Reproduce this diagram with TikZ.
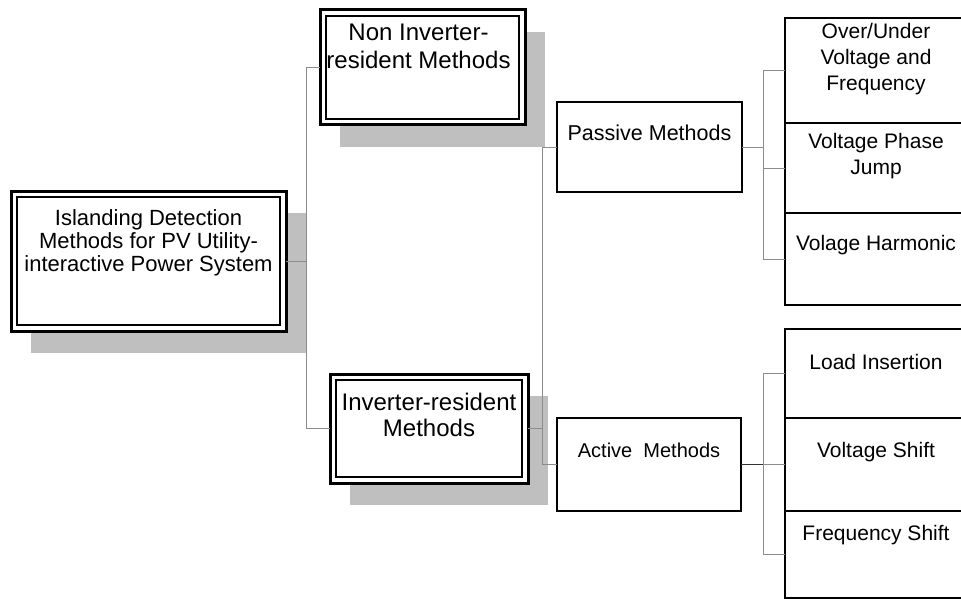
\documentclass[tikz,border=0pt]{standalone}
\usepackage{fontspec}
\setmainfont{Liberation Sans}
\usetikzlibrary{positioning,shadows}

\tikzset{
  dbox/.style={draw, line width=3pt, inner sep=0pt, outer sep=0pt, fill=white,
    drop shadow={shadow xshift=20pt, shadow yshift=-22pt, fill=black!25, opacity=1},
    path picture={\draw[line width=1.5pt]
      ([shift={(6pt,6pt)}]path picture bounding box.south west) rectangle
      ([shift={(-6pt,-6pt)}]path picture bounding box.north east);}},
  sbox/.style={draw, line width=1.5pt, inner sep=0pt, outer sep=0pt, fill=white},
  leaf/.style={sbox, minimum width=182pt},
  conn/.style={draw=black!45, line width=0.9pt},
  lbl/.style={align=center, inner sep=0pt, font=\fontsize{21}{26}\selectfont}
}

\begin{document}
\begin{tikzpicture}[x=1pt, y=-1pt]
\useasboundingbox (0,0) rectangle (961,599);
\clip (0,0) rectangle (961,599);
\fill[white] (0,0) rectangle (961,599);

% main boxes
\node[dbox, minimum width=275pt, minimum height=140pt] (root) at (148.5,261) {};
\node[dbox, minimum width=205pt, minimum height=115pt] (noninv) at (422.5,67.5) {};
\node[dbox, minimum width=198pt, minimum height=109pt] (inv) at (429,428.5) {};
\node[sbox, minimum width=185pt, minimum height=90pt] (passive) at (649.5,147) {};
\node[sbox, minimum width=184pt, minimum height=93pt] (active) at (649,464.5) {};

% leaves
\node[leaf, minimum height=105pt] (ouvf) at (876,70.5) {};
\node[leaf, minimum height=90pt, below=0pt of ouvf] (vpj) {};
\node[leaf, minimum height=92pt, below=0pt of vpj] (vh) {};

\node[leaf, minimum height=89pt] (li) at (876,373.5) {};
\node[leaf, minimum height=93pt, below=0pt of li] (vs) {};
\node[leaf, minimum height=87pt, below=0pt of vs] (fs) {};

% texts
\node[lbl, font=\fontsize{22}{23}\selectfont] (root-t) at ([yshift=18.5pt]root.center)
  {Islanding Detection\\Methods for PV Utility-\\interactive Power System};
\node[lbl, font=\fontsize{24}{28}\selectfont] (noninv-t) at ([xshift=-4pt,yshift=21.5pt]noninv.center)
  {Non Inverter-\\resident Methods};
\node[lbl, font=\fontsize{24}{26}\selectfont] (inv-t) at ([yshift=13.5pt]inv.center)
  {Inverter-resident\\Methods};
\node[lbl, font=\fontsize{21.5}{26}\selectfont] (passive-t) at ([yshift=14pt]passive.center) {Passive Methods};
\node[lbl, font=\fontsize{20}{24}\selectfont] (active-t) at ([yshift=14.5pt]active.center) {Active\ \ Methods};

\node[lbl] (ouvf-t) at ([yshift=11.5pt]ouvf.center) {Over/Under\\Voltage and\\Frequency};
\node[lbl] (vpj-t) at ([yshift=12pt]vpj.center) {Voltage Phase\\Jump};
\node[lbl] (vh-t) at ([yshift=14pt]vh.center) {Volage Harmonic};
\node[lbl] (li-t) at ([yshift=11.5pt]li.center) {Load Insertion};
\node[lbl] (vs-t) at ([yshift=12.5pt]vs.center) {Voltage Shift};
\node[lbl] (fs-t) at ([yshift=19.5pt]fs.center) {Frequency Shift};

% connectors
\draw[conn] (root.east) -- ++(20,0) coordinate (rj) |- (noninv.west);
\draw[conn] (rj) |- (inv.west);

\draw[conn] (inv.east) -- ++(14,0) coordinate (ij) |- (passive.west);
\draw[conn] (ij) |- (active.west);

\draw[conn] (passive.east) -- ++(21,0) coordinate (pj) |- (ouvf.west);
\draw[conn] (pj) |- (vpj.west);
\draw[conn] (pj) |- (vh.west);

\draw[conn, draw=black!80] (active.east) -- ++(22,0) coordinate (aj);
\draw[conn] (aj) |- (li.west);
\draw[conn] (aj) -- (vs.west);
\draw[conn] (aj) |- (fs.west);
\end{tikzpicture}
\end{document}
